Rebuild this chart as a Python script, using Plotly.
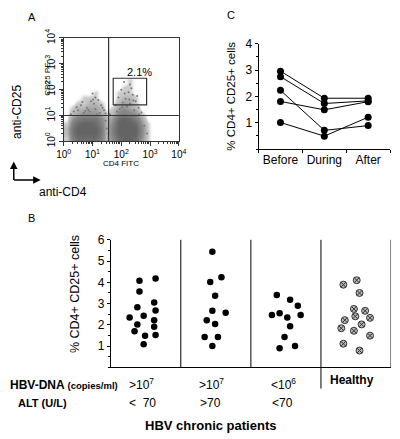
import math
import plotly.graph_objects as go

FONT = "Arial, Liberation Sans, sans-serif"
W, H = 400, 439

# ---------------- Panel A: flow cytometry (log10 decades) ----------------
dens_x = [0.1, 0.3, 0.5, 0.7, 0.9, 1.1, 1.3, 1.5, 1.7, 1.9, 2.1, 2.3, 2.5, 2.7, 2.9, 3.1]
dens_y = [0.1, 0.3, 0.5, 0.7, 0.9, 1.1, 1.3, 1.5, 1.7, 1.9, 2.1, 2.3]
dens_z = [
    [1, 6, 8, 8, 8, 8, 6, 2, 5, 8, 9, 9, 8, 4, 1, 0],
    [2, 7, 9, 9, 9, 9, 7, 2, 6, 9, 9, 9, 9, 5, 1, 0],
    [2, 7, 9, 9, 9, 9, 7, 2, 6, 9, 9, 9, 9, 5, 1, 0],
    [1, 6, 8, 9, 9, 8, 6, 2, 5, 9, 9, 9, 8, 4, 1, 0],
    [0, 4, 6, 7, 7, 7, 5, 2, 4, 8, 9, 8, 6, 3, 0, 0],
    [0, 2, 3, 4, 4, 4, 3, 1, 2, 5, 6, 5, 4, 1, 0, 0],
    [0, 1, 2, 2, 3, 3, 2, 0, 1, 3, 4, 3, 2, 0, 0, 0],
    [0, 0, 1, 1, 2, 2, 1, 0, 0, 2, 3, 3, 1, 0, 0, 0],
    [0, 0, 0, 1, 1, 1, 0, 0, 0, 1, 2, 2, 1, 0, 0, 0],
    [0, 0, 0, 0, 0, 1, 0, 0, 0, 1, 1, 1, 0, 0, 0, 0],
    [0, 0, 0, 0, 0, 0, 0, 0, 0, 0, 1, 1, 0, 0, 0, 0],
    [0, 0, 0, 0, 0, 0, 0, 0, 0, 0, 0, 1, 0, 0, 0, 0],
]
sparse_x = [1.0, 1.1, 0.95, 1.2, 0.6, 0.8, 1.3, 0.5, 1.1, 0.9, 1.25, 0.7, 0.35, 1.4, 1.05,
            0.45, 0.85, 1.15, 0.25, 1.35, 0.65, 1.02, 0.75, 1.45,
            2.1, 2.3, 2.0, 2.25, 2.4, 1.9, 2.15, 2.5, 2.05, 2.3, 1.8, 2.6, 2.2, 1.95, 2.45,
            2.35, 2.12, 2.55, 1.85, 2.7, 2.02, 2.42, 2.62, 2.28,
            1.5, 1.45, 1.55, 1.6, 2.8, 2.9]
sparse_y = [1.85, 1.7, 1.55, 1.6, 1.4, 1.3, 1.4, 1.2, 1.25, 1.15, 1.1, 1.1, 1.15, 1.2, 1.45,
            1.32, 1.22, 1.05, 1.05, 1.3, 1.52, 1.62, 1.18, 1.08,
            2.3, 2.2, 2.0, 1.9, 1.8, 1.7, 1.65, 1.55, 1.5, 1.45, 1.4, 1.3, 1.35, 1.25, 1.2,
            2.05, 1.85, 1.75, 1.15, 1.12, 1.32, 1.58, 1.05, 1.62,
            0.5, 0.8, 0.3, 1.05, 0.6, 0.3]
quad_x = 1.56          # vertical quadrant marker (decades)
quad_y = 1.0           # horizontal quadrant marker (decades)
gate_x = [1.72, 2.88]  # CD4+CD25+ gate (decades)
gate_y = [1.41, 2.44]
gate_pct = "2.1%"
decades = [0, 1, 2, 3, 4]

# ---------------- Panel C ----------------
phases = ["Before", "During", "After"]
c_before = [2.96, 2.75, 2.23, 1.81, 1.01]
c_during = [1.93, 1.73, 0.71, 1.49, 0.49]
c_after = [1.93, 1.83, 0.89, 1.80, 1.21]

# ---------------- Panel B ----------------
g1_x = [0.41, 0.64, 0.41, 0.62, 0.38, 0.64, 0.27, 0.47, 0.62, 0.38, 0.62, 0.34, 0.49, 0.64, 0.47]
g1_y = [4.07, 4.18, 3.57, 3.05, 2.83, 2.67, 2.34, 2.43, 2.22, 2.01, 1.91, 1.70, 1.49, 1.52, 1.09]
g2_x = [1.45, 1.58, 1.42, 1.49, 1.45, 1.64, 1.37, 1.49, 1.34, 1.53, 1.45]
g2_y = [5.44, 4.24, 4.01, 3.37, 2.66, 2.57, 2.22, 2.04, 1.43, 1.43, 1.00]
g3_x = [2.37, 2.56, 2.67, 2.30, 2.41, 2.52, 2.71, 2.56, 2.48, 2.41, 2.63]
g3_y = [3.40, 3.18, 2.90, 2.46, 2.54, 2.34, 2.46, 1.93, 1.43, 0.90, 1.00]
hl_x = [3.32, 3.51, 3.55, 3.47, 3.63, 3.49, 3.70, 3.34, 3.58, 3.29, 3.47, 3.70, 3.32, 3.55]
hl_y = [3.89, 4.10, 3.50, 2.75, 2.66, 2.40, 2.33, 2.22, 2.02, 1.84, 1.72, 1.49, 1.11, 0.79]
group_edges = [1, 2, 3, 4]
dna_labels = [">10<sup>7</sup>", ">10<sup>7</sup>", "<10<sup>6</sup>"]
alt_labels = ["<  70", ">70", "<70"]


def PX(x):
    return x / W


def PY(y):
    return 1 - y / H


fig = go.Figure()

# Panel A
fig.add_trace(go.Heatmap(
    x=dens_x, y=dens_y, z=dens_z, xaxis="x", yaxis="y", zsmooth="best",
    zmin=0, zmax=9, showscale=False, hoverinfo="skip",
    colorscale=[[0, "rgba(255,255,255,0)"], [0.1, "rgba(205,205,205,1)"],
                [0.5, "rgb(140,140,140)"], [1, "rgb(100,100,100)"]]))
fig.add_trace(go.Scatter(x=sparse_x, y=sparse_y, mode="markers", xaxis="x", yaxis="y",
                         marker=dict(size=2, color="#777"), hoverinfo="skip"))
fig.add_trace(go.Scatter(x=[quad_x, quad_x], y=[0, 4], mode="lines", xaxis="x", yaxis="y",
                         line=dict(color="#333", width=1.2), hoverinfo="skip"))
fig.add_trace(go.Scatter(x=[0, 4], y=[quad_y, quad_y], mode="lines", xaxis="x", yaxis="y",
                         line=dict(color="#333", width=1.2), hoverinfo="skip"))
fig.add_trace(go.Scatter(x=[gate_x[0], gate_x[1], gate_x[1], gate_x[0], gate_x[0]],
                         y=[gate_y[0], gate_y[0], gate_y[1], gate_y[1], gate_y[0]],
                         mode="lines", xaxis="x", yaxis="y",
                         line=dict(color="#333", width=1.2), hoverinfo="skip"))

# Panel C
for i in range(len(c_before)):
    fig.add_trace(go.Scatter(x=phases, y=[c_before[i], c_during[i], c_after[i]],
                             mode="lines+markers", xaxis="x2", yaxis="y2",
                             line=dict(color="black", width=1),
                             marker=dict(size=7, color="black")))

# Panel B
for gx, gy in [(g1_x, g1_y), (g2_x, g2_y), (g3_x, g3_y)]:
    fig.add_trace(go.Scatter(x=gx, y=gy, mode="markers", xaxis="x3", yaxis="y3",
                             marker=dict(size=6.5, color="black")))
fig.add_trace(go.Scatter(x=hl_x, y=hl_y, mode="markers", xaxis="x3", yaxis="y3",
                         marker=dict(size=7, color="#b8b8b8", symbol="circle-x",
                                     line=dict(color="#333", width=1))))

minor_log = [d + math.log10(k) for d in range(4) for k in range(2, 10)]
log_text = ["10<sup>%d</sup>" % d for d in decades]
tickfont = dict(family=FONT, size=12, color="black")

axA = dict(range=[0, 4], tickmode="array", tickvals=decades, ticktext=log_text,
           ticks="outside", ticklen=4, tickcolor="#333", showline=True, mirror=True,
           linecolor="#333", linewidth=1.2, showgrid=False, zeroline=False,
           tickfont=dict(family=FONT, size=10, color="black"),
           minor=dict(tickmode="array", tickvals=minor_log, ticks="outside", ticklen=2,
                      tickcolor="#333", showgrid=False))

layout = dict(
    width=W, height=H, margin=dict(l=0, r=0, t=0, b=0),
    paper_bgcolor="white", plot_bgcolor="rgba(0,0,0,0)", showlegend=False,
    font=dict(family=FONT, color="black"),
    xaxis=dict(axA, domain=[PX(58), PX(178)], anchor="y", tickangle=0),
    yaxis=dict(axA, domain=[PY(137), PY(30)], anchor="x", tickangle=-90),
    xaxis2=dict(domain=[PX(261), PX(398)], anchor="y2", type="category",
                range=[-0.5, 2.5], tickson="boundaries", ticks="outside", ticklen=3,
                tickangle=0,
                tickcolor="black", showline=True, linecolor="black", linewidth=1,
                showgrid=False, zeroline=False, tickfont=tickfont),
    yaxis2=dict(domain=[PY(145), PY(36)], anchor="x2", range=[0, 4],
                tickvals=[1, 2, 3, 4], ticks="outside", ticklen=3, tickcolor="black",
                showline=True, linecolor="black", linewidth=1, showgrid=False,
                zeroline=False, tickfont=tickfont,
                minor=dict(dtick=0.5, ticks="outside", ticklen=2, tickcolor="black")),
    xaxis3=dict(domain=[PX(107), PX(399)], anchor="y3", range=[0, 4],
                showticklabels=False, ticks="", showline=True, linecolor="black",
                linewidth=1, showgrid=False, zeroline=False),
    yaxis3=dict(domain=[PY(371), PY(239)], anchor="x3", range=[0, 6],
                tickvals=[1, 2, 3, 4, 5, 6], ticks="outside", ticklen=3,
                tickcolor="black", showline=True, linecolor="black", linewidth=1,
                showgrid=False, zeroline=False, tickfont=tickfont,
                minor=dict(dtick=0.5, ticks="outside", ticklen=2, tickcolor="black")),
)
fig.update_layout(**layout)

# separators in panel B
for e in group_edges:
    bottom = 393 if e == 3 else 371
    fig.add_shape(type="line", xref="x3", yref="paper", x0=e, x1=e,
                  y0=PY(bottom), y1=PY(239), line=dict(color="black", width=1))

ann = []


def T(text, x, y, size, bold=False, angle=0, xanchor="center"):
    if bold:
        text = "<b>" + text + "</b>"
    ann.append(dict(text=text, x=PX(x), y=PY(y), xref="paper", yref="paper",
                    showarrow=False, textangle=angle, xanchor=xanchor, yanchor="middle",
                    font=dict(family=FONT, size=size, color="black")))


T("A", 25, 8, 11)
T("C", 232, 6, 11)
T("B", 24, 216, 11)
T("anti-CD25", 10, 107, 12, angle=-90)
T("anti-CD4", 57, 189, 12)
T("CD25 PE", 41, 73, 8, angle=-90)
T("CD4 FITC", 118, 160, 8)
T(gate_pct, 137, 65, 11)
T("% CD4+ CD25+ cells", 232, 90, 11.5, angle=-90)
T("% CD4+ CD25+ cells", 70, 295, 12.5, angle=-90)
T("HBV-DNA <span style='font-size:9.5px'>(copies/ml)</span>", 0, 389, 12, bold=True,
  xanchor="left")
T("ALT (U/L)", 8, 408, 11, bold=True, xanchor="left")
for lab, cx in zip(dna_labels, [139, 212, 287]):
    T(lab, cx, 388, 12)
for lab, cx in zip(alt_labels, [140, 211, 286]):
    T(lab, cx, 408, 12)
T("Healthy", 358, 384, 12, bold=True)
T("HBV chronic patients", 211, 431, 13, bold=True)

# axis arrows (anti-CD25 / anti-CD4)
ann.append(dict(x=PX(6), y=PY(158), xref="paper", yref="paper", ax=0, ay=20, text="",
                showarrow=True, arrowhead=2, arrowsize=1, arrowwidth=1.5, arrowcolor="black"))
ann.append(dict(x=PX(34), y=PY(177), xref="paper", yref="paper", ax=-28, ay=0, text="",
                showarrow=True, arrowhead=2, arrowsize=1, arrowwidth=1.5, arrowcolor="black"))
fig.update_layout(annotations=ann)

fig.write_html("out.html", config={"displayModeBar": False},
               post_script="document.body.style.margin='0px';")
